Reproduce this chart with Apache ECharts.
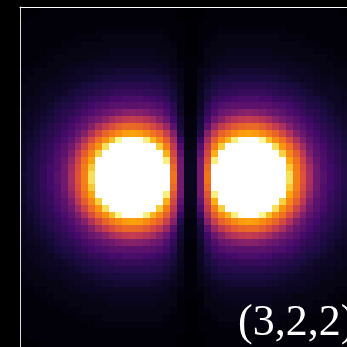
<!DOCTYPE html>
<html>
<head>
<meta charset="utf-8">
<script src="https://cdn.jsdelivr.net/npm/echarts@6/dist/echarts.min.js"></script>
<style>
html,body{margin:0;padding:0;background:#000;}
#chart{width:347px;height:347px;}
</style>
</head>
<body>
<div id="chart"></div>
<script>
// Quantum numbers label
const stateLabel = '(3,2,2)';

// Colour level (0-100): top-left quarter of the plot,
// rows from the top edge down to the lobe centre row, columns from the left edge to the centre line.
const quarterLevels = [
  [0,0,0,1,1,1,1,1,1,1,1,1,1,1,1,1,1,1,1,1,1,1,1,0,0],
  [0,1,1,1,1,1,1,1,1,1,1,1,1,1,1,1,1,1,1,1,1,1,1,0,0],
  [1,1,1,1,1,1,1,1,1,1,1,1,1,1,1,1,1,1,1,1,1,1,1,1,0],
  [1,1,1,1,1,1,1,1,1,1,1,2,2,2,2,2,2,2,2,2,2,1,1,1,0],
  [1,1,1,1,1,1,1,1,2,2,2,2,3,3,3,3,3,3,3,3,3,2,1,1,0],
  [1,1,1,1,1,1,2,2,2,3,3,3,3,3,3,3,3,3,3,3,3,3,2,1,0],
  [1,1,1,1,2,2,2,3,3,3,3,3,3,4,4,4,4,4,4,4,3,3,3,1,0],
  [1,1,1,2,2,3,3,3,3,3,4,4,4,5,5,5,5,5,5,5,4,4,3,1,1],
  [1,1,2,2,3,3,3,4,4,5,5,6,6,6,6,6,6,6,6,6,6,5,3,2,1],
  [2,2,3,3,3,3,4,5,6,6,6,7,8,8,9,9,9,9,9,8,7,6,5,3,1],
  [2,3,3,3,4,4,5,6,6,7,8,9,10,11,11,11,11,11,11,11,10,9,6,3,1],
  [3,3,3,4,5,5,6,7,8,10,11,12,13,13,14,14,14,14,14,13,13,11,8,4,1],
  [3,3,4,5,6,6,7,9,11,12,13,14,15,16,17,17,17,17,16,16,15,13,10,5,1],
  [3,4,4,6,6,8,10,11,13,14,16,17,18,21,21,22,22,22,21,20,18,16,11,6,1],
  [3,4,5,6,8,10,12,13,15,17,20,22,23,25,26,26,26,26,26,25,23,20,14,6,1],
  [4,5,6,7,9,12,14,15,17,21,23,26,29,31,34,36,37,36,34,31,29,23,16,7,1],
  [4,6,7,9,11,13,15,18,21,25,29,33,38,44,48,51,52,51,48,44,37,30,20,9,2],
  [5,6,8,10,13,15,17,21,25,29,36,45,52,58,63,66,66,65,62,57,51,41,26,10,2],
  [6,7,9,12,14,16,20,23,29,36,47,57,65,70,74,78,79,78,74,69,64,53,36,13,2],
  [6,8,10,13,15,18,22,27,35,46,58,68,75,85,94,100,100,99,93,83,74,63,44,18,3],
  [6,9,11,14,16,21,25,31,43,55,67,76,91,100,100,100,100,100,100,100,88,71,51,23,3],
  [7,9,12,15,17,22,26,35,50,63,73,89,100,100,100,100,100,100,100,100,100,82,56,27,4],
  [7,10,12,15,18,23,29,40,55,68,80,100,100,100,100,100,100,100,100,100,100,93,61,31,4],
  [7,10,13,16,20,23,31,44,58,71,87,100,100,100,100,100,100,100,100,100,100,100,66,32,5],
  [8,10,13,16,20,25,31,45,60,72,91,100,100,100,100,100,100,100,100,100,100,100,69,32,5]
];

const halfCols = quarterLevels[0].length;
const halfRows = quarterLevels.length;
const xCategories = Array.from({length: halfCols * 2}, (_, i) => i);
const yCategories = Array.from({length: halfRows * 2}, (_, i) => i);

// the picture is mirror-symmetric about the centre line and the lobe row
const data = [];
for (let r = 0; r < halfRows * 2; r++) {
  const j = r < halfRows ? r : halfRows * 2 - 1 - r;
  for (let c = 0; c < halfCols * 2; c++) {
    const i = c < halfCols ? c : halfCols * 2 - 1 - c;
    data.push([c, r, quarterLevels[j][i]]);
  }
}

// inferno-like colormap ending in white
const inferno = ['#000004','#160b39','#420a68','#6a176e','#932667','#bc3754','#dd513a','#f37819','#fca50a','#f6d746'];
function mix(a, b) {
  const pa = [1,3,5].map(k => parseInt(a.substr(k,2),16));
  const pb = [1,3,5].map(k => parseInt(b.substr(k,2),16));
  return 'rgb(' + pa.map((v,k) => Math.round((v + pb[k]) / 2)).join(',') + ')';
}
const stops = [];
for (let k = 0; k < inferno.length; k++) {
  stops.push(inferno[k]);
  if (k < inferno.length - 1) stops.push(mix(inferno[k], inferno[k+1]));
}
stops.push('#fcffa4');
stops.push('#ffffff');

function renderCell(params, api) {
  const p = api.coord([api.value(0), api.value(1)]);
  const s = api.size([1, 1]);
  const x0 = Math.round(p[0] - s[0] / 2), x1 = Math.round(p[0] + s[0] / 2);
  const y0 = Math.round(p[1] - s[1] / 2), y1 = Math.round(p[1] + s[1] / 2);
  return {
    type: 'rect',
    shape: {x: x0, y: y0, width: x1 - x0, height: y1 - y0},
    style: {fill: api.visual('color')}
  };
}

const chart = echarts.init(document.getElementById('chart'), null, {renderer: 'canvas'});
chart.setOption({
  backgroundColor: '#000000',
  animation: false,
  title: {
    text: stateLabel,
    left: 233,
    top: 296,
    textStyle: {color: '#ffffff', fontFamily: 'Liberation Serif', fontSize: 44, fontWeight: 'normal'}
  },
  grid: {left: 20, top: 7, width: 341, height: 341, containLabel: false, outerBoundsMode: 'none'},
  xAxis: {
    type: 'category', data: xCategories, position: 'top', z: 10,
    axisLine: {show: true, lineStyle: {color: '#ffffff', width: 1}},
    axisTick: {show: false}, axisLabel: {show: false}, splitLine: {show: false}
  },
  yAxis: {
    type: 'category', data: yCategories, inverse: true, position: 'left', z: 10,
    axisLine: {show: true, lineStyle: {color: '#dddddd', width: 1}},
    axisTick: {show: false}, axisLabel: {show: false}, splitLine: {show: false}
  },
  visualMap: {show: false, min: 0, max: 100, dimension: 2, seriesIndex: 0, inRange: {color: stops}},
  series: [{
    type: 'custom',
    renderItem: renderCell,
    encode: {x: 0, y: 1},
    data: data,
    progressive: 0,
    silent: true
  }]
});
</script>
</body>
</html>
